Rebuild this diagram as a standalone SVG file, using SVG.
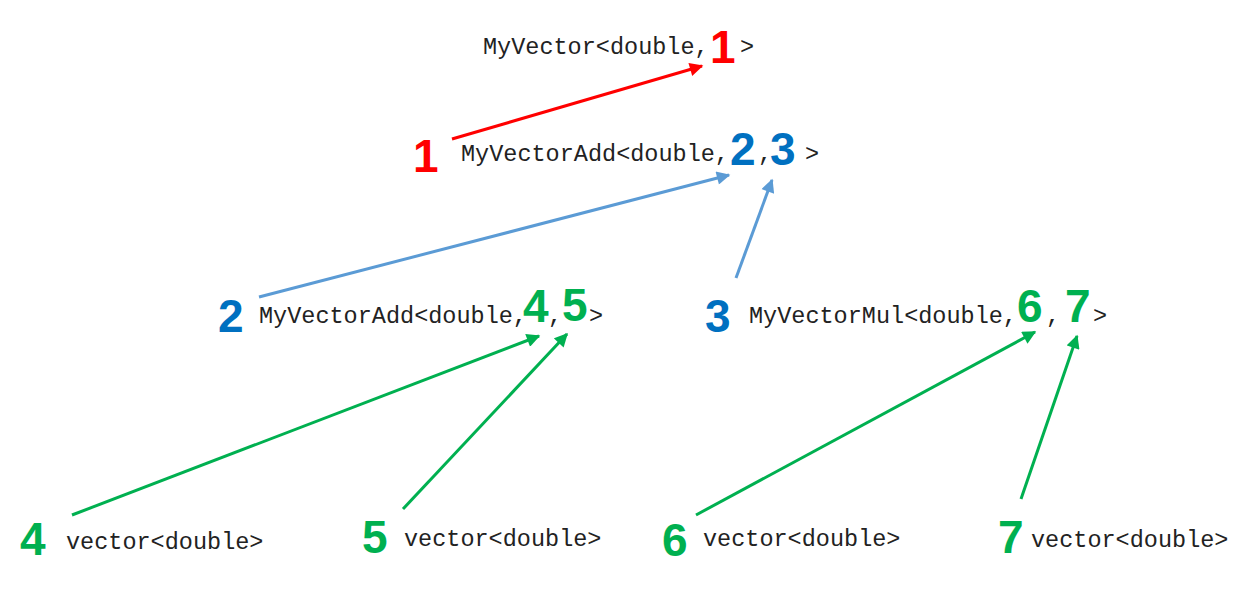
<svg xmlns="http://www.w3.org/2000/svg" width="1254" height="598" viewBox="0 0 1254 598">
<style>
.m{font-family:"Liberation Mono","Courier New",monospace;font-size:23.5px;fill:#222}
.n{font-family:"Liberation Sans",Arial,sans-serif;font-size:46px;font-weight:bold}
.r{fill:#FF0000}.b{fill:#0070C0}.g{fill:#00B050}
.c{fill:none;stroke-width:3}
</style>
<defs>
<marker id="ar" viewBox="0 0 10 10" refX="9" refY="5" markerWidth="5" markerHeight="4.5" orient="auto" markerUnits="strokeWidth"><path d="M0,0L10,5L0,10z" fill="#FF0000"/></marker>
<marker id="ab" viewBox="0 0 10 10" refX="9" refY="5" markerWidth="5" markerHeight="4.5" orient="auto" markerUnits="strokeWidth"><path d="M0,0L10,5L0,10z" fill="#5B9BD5"/></marker>
<marker id="ag" viewBox="0 0 10 10" refX="9" refY="5" markerWidth="5" markerHeight="4.5" orient="auto" markerUnits="strokeWidth"><path d="M0,0L10,5L0,10z" fill="#00B050"/></marker>
</defs>
<g id="connectors">
<line class="c" stroke="#FF0000" x1="452" y1="139" x2="702" y2="66" marker-end="url(#ar)"/>
<line class="c" stroke="#5B9BD5" x1="259" y1="297" x2="729" y2="175" marker-end="url(#ab)"/>
<line class="c" stroke="#5B9BD5" x1="736" y1="278" x2="772" y2="180" marker-end="url(#ab)"/>
<line class="c" stroke="#00B050" x1="72" y1="515" x2="539" y2="336" marker-end="url(#ag)"/>
<line class="c" stroke="#00B050" x1="403" y1="509" x2="567" y2="334" marker-end="url(#ag)"/>
<line class="c" stroke="#00B050" x1="696" y1="515" x2="1035" y2="332" marker-end="url(#ag)"/>
<line class="c" stroke="#00B050" x1="1021" y1="499" x2="1077" y2="336" marker-end="url(#ag)"/>
</g>
<g id="node-top">
<text class="m" x="483" y="54">MyVector&lt;double,</text>
<text class="n r" x="710" y="63">1</text>
<text class="m" x="740" y="54">&gt;</text>
</g>
<g id="node-1">
<text class="n r" x="413" y="172">1</text>
<text class="m" x="461" y="161">MyVectorAdd&lt;double,</text>
<text class="n b" x="730" y="165">2</text>
<text class="m" x="758" y="161">,</text>
<text class="n b" x="770" y="165">3</text>
<text class="m" x="805" y="161">&gt;</text>
</g>
<g id="node-2">
<text class="n b" x="218" y="332">2</text>
<text class="m" x="259" y="323">MyVectorAdd&lt;double,</text>
<text class="n g" x="523" y="322">4</text>
<text class="m" x="548" y="323">,</text>
<text class="n g" x="562" y="321">5</text>
<text class="m" x="589" y="323">&gt;</text>
</g>
<g id="node-3">
<text class="n b" x="705" y="332">3</text>
<text class="m" x="749" y="323">MyVectorMul&lt;double,</text>
<text class="n g" x="1017" y="322">6</text>
<text class="m" x="1046" y="323">,</text>
<text class="n g" x="1065" y="322">7</text>
<text class="m" x="1093" y="323">&gt;</text>
</g>
<g id="node-4">
<text class="n g" x="20" y="555">4</text>
<text class="m" x="66" y="549">vector&lt;double&gt;</text>
</g>
<g id="node-5">
<text class="n g" x="362" y="553">5</text>
<text class="m" x="404" y="546">vector&lt;double&gt;</text>
</g>
<g id="node-6">
<text class="n g" x="662" y="556">6</text>
<text class="m" x="703" y="546">vector&lt;double&gt;</text>
</g>
<g id="node-7">
<text class="n g" x="998" y="553">7</text>
<text class="m" x="1031" y="547">vector&lt;double&gt;</text>
</g>
</svg>
